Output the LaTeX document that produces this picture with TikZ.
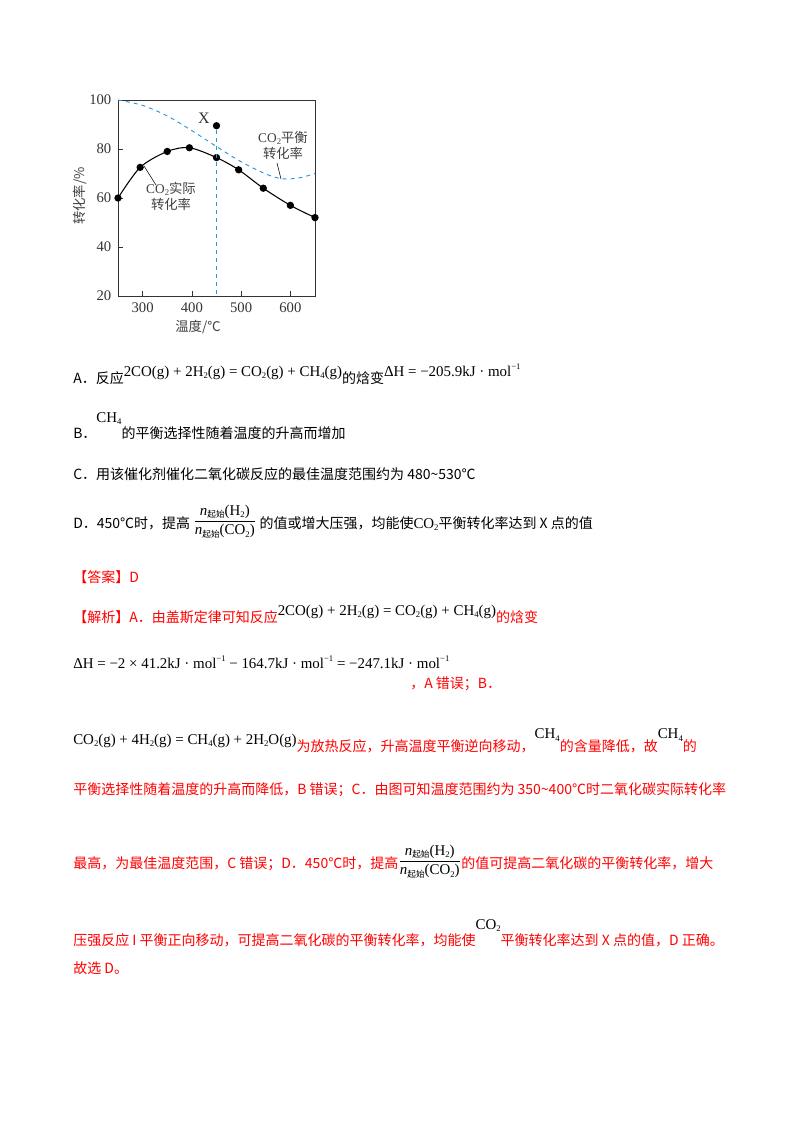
\documentclass[tikz,border=0pt]{standalone}
\usepackage{fontspec}
\setmainfont{Liberation Serif}
\newfontfamily\cjk{Noto Sans CJK SC}
\newfontfamily\tnr{Liberation Serif}
\definecolor{eqblue}{RGB}{40,150,220}
\definecolor{ansred}{RGB}{255,0,0}
\newcommand{\sub}[1]{\raisebox{-0.35ex}{\fontsize{6.5}{6.5}\selectfont #1}}
\newcommand{\sups}[1]{\raisebox{0.9ex}{\fontsize{6.5}{6.5}\selectfont #1}}
\newcommand{\fm}[1]{\raisebox{0.9ex}{\tnr\fontsize{11.2}{12}\selectfont #1}}
\newcommand{\nfrac}[2]{\raisebox{0.4ex}{\fontsize{11.2}{12}\selectfont$\displaystyle\frac{\mbox{\tnr\itshape n}\mbox{\sub{\cjk 起始}}\mbox{\tnr(#1)}}{\mbox{\tnr\itshape n}\mbox{\sub{\cjk 起始}}\mbox{\tnr(#2)}}$}}
\begin{document}
\begin{tikzpicture}[x=0.75pt,y=-0.75pt,
  declare function={X(\t)=118+(\t-250)*0.4925; Y(\v)=100+(100-\v)*2.45;},
  lab/.style={font=\tnr\fontsize{11}{12}\selectfont,text=black!80},
  clab/.style={font=\cjk\fontsize{10}{12}\selectfont,text=black!75,align=center,inner sep=0pt},
  txt/.style={anchor=base west,inner sep=0pt,font=\cjk\fontsize{10.5}{12}\selectfont},
  dot/.style={circle,fill=black,inner sep=0pt,minimum size=5.5pt}]
\useasboundingbox (0,0) rectangle (800,1132);
% chart
\draw[black!80,line width=0.6pt] ({X(250)},{Y(100)}) rectangle ({X(650)},{Y(20)});
\foreach \t in {300,400,500,600}{\draw[black!80] ({X(\t)},{Y(20)})--++(0,-5);
  \node[lab,below] (xt\t) at ({X(\t)},{Y(20)+2}) {\t};}
\foreach \v in {40,60,80}{\draw[black!80] ({X(250)},{Y(\v)})--++(5,0);}
\foreach \v in {20,40,60,80,100}{\node[lab,left] (yt\v) at ({X(250)-2},{Y(\v)}) {\v};}
\node[clab,rotate=90] (ylab) at (80,{Y(60)-2}) {转化率/\%};
\node[clab] (xlab) at (198,327) {温度/℃};
\draw[eqblue,dashed,line width=0.7pt] plot[smooth] coordinates {({X(250)},{Y(100)}) ({X(300)},{Y(97.8)}) ({X(350)},{Y(93.5)}) ({X(400)},{Y(87.5)}) ({X(450)},{Y(81)}) ({X(500)},{Y(74.8)}) ({X(550)},{Y(69.8)}) ({X(585)},{Y(67.8)}) ({X(620)},{Y(68.3)}) ({X(650)},{Y(70)})};
\draw[black,line width=0.8pt] plot[smooth] coordinates {({X(250)},{Y(60)}) ({X(295)},{Y(72.5)}) ({X(350)},{Y(79)}) ({X(395)},{Y(80.5)}) ({X(450)},{Y(76.5)}) ({X(495)},{Y(71.5)}) ({X(545)},{Y(64)}) ({X(600)},{Y(57)}) ({X(650)},{Y(52)})};
\foreach \t/\v [count=\i] in {250/60,295/72.5,350/79,395/80.5,450/76.5,495/71.5,545/64,600/57,650/52}{\node[dot] (p\i) at ({X(\t)},{Y(\v)}) {};}
\node[dot] (px) at ({X(450)},{Y(89.5)}) {};
\coordinate (pxb) at ({X(450)},{Y(20)});
\draw[eqblue,dashed,line width=0.7pt] (px)--(pxb);
\node[lab,font=\tnr\fontsize{12}{12}\selectfont] (xl) at (204,118) {X};
\node[clab] (eqlab) at (283,145) {{\tnr CO\sub{2}}平衡\\转化率};
\coordinate (eqa) at (277,163); \coordinate (eqb) at (281,179);
\draw[black] (eqa)--(eqb);
\node[clab] (aclab) at (171,196) {{\tnr CO\sub{2}}实际\\转化率};
\coordinate (aca) at (156,185); \coordinate (acb) at (144,166);
\draw[black] (aca)--(acb);
% options
\node[txt] (la) at (73,383) {A．反应\fm{2CO(g) + 2H\sub{2}(g) = CO\sub{2}(g) + CH\sub{4}(g)}的焓变\fm{ΔH = −205.9kJ · mol\sups{−1}}};
\node[txt] (lb) at (73,438) {B．\fm{\raisebox{1.3ex}{CH\sub{4}}}的平衡选择性随着温度的升高而增加};
\node[txt] (lc) at (73,479) {C．用该催化剂催化二氧化碳反应的最佳温度范围约为 480\textasciitilde530℃};
\node[txt] (ld) at (73,528) {D．450℃时，提高 \nfrac{H\sub{2}}{CO\sub{2}} 的值或增大压强，均能使{\tnr\fontsize{11.2}{12}\selectfont CO\sub{2}}平衡转化率达到 X 点的值};
% answer
\begin{scope}[every node/.append style={text=ansred}]
\node[txt] (ans) at (73,582) {【答案】D};
\node[txt] (j1) at (73,622) {【解析】A．由盖斯定律可知反应\fm{\textcolor{black}{2CO(g) + 2H\sub{2}(g) = CO\sub{2}(g) + CH\sub{4}(g)}}的焓变};
\node[txt,text=black,font=\tnr\fontsize{11.2}{12}\selectfont] (j2) at (73,668) {ΔH = −2 × 41.2kJ · mol\sups{−1} − 164.7kJ · mol\sups{−1} = −247.1kJ · mol\sups{−1}};
\node[txt] (j2b) at (410,688) {，A 错误；B．};
\node[txt] (j3) at (73,751) {\fm{\textcolor{black}{CO\sub{2}(g) + 4H\sub{2}(g) = CH\sub{4}(g) + 2H\sub{2}O(g)}}为放热反应，升高温度平衡逆向移动，\fm{\textcolor{black}{\raisebox{0.8ex}{CH\sub{4}}}}的含量降低，故\fm{\textcolor{black}{\raisebox{0.8ex}{CH\sub{4}}}}的};
\node[txt] (j4) at (73,794) {平衡选择性随着温度的升高而降低，B 错误；C．由图可知温度范围约为 350\textasciitilde400℃时二氧化碳实际转化率};
\node[txt] (j5) at (73,868) {最高，为最佳温度范围，C 错误；D．450℃时，提高\textcolor{black}{\nfrac{H\sub{2}}{CO\sub{2}}}的值可提高二氧化碳的平衡转化率，增大};
\node[txt] (j6) at (73,945) {压强反应 I 平衡正向移动，可提高二氧化碳的平衡转化率，均能使\fm{\textcolor{black}{\raisebox{1.3ex}{CO\sub{2}}}}平衡转化率达到 X 点的值，D 正确。};
\node[txt] (j7) at (73,973) {故选 D。};
\end{scope}
\end{tikzpicture}
\end{document}
